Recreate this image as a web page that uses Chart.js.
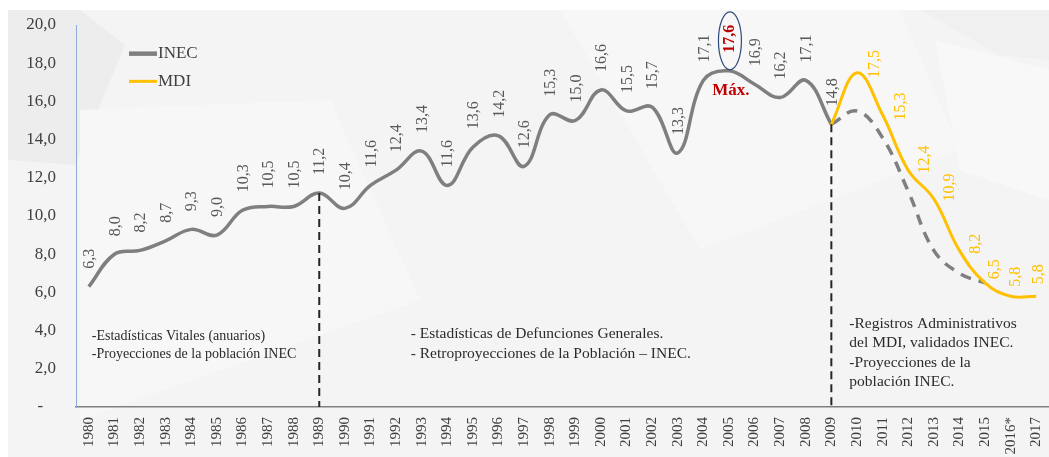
<!DOCTYPE html>
<html><head><meta charset="utf-8">
<script src="https://cdn.jsdelivr.net/npm/chart.js@4/dist/chart.umd.min.js"></script>
<style>html,body{margin:0;padding:0;background:#fff}</style>
</head><body>
<canvas id="c" width="1049" height="457"></canvas>
<script>
const years = ['1980','1981','1982','1983','1984','1985','1986','1987','1988','1989',
  '1990','1991','1992','1993','1994','1995','1996','1997','1998','1999',
  '2000','2001','2002','2003','2004','2005','2006','2007','2008','2009',
  '2010','2011','2012','2013','2014','2015','2016*','2017'];
const inecValues = [6.3,8.0,8.2,8.7,9.3,9.0,10.3,10.5,10.5,11.2,
  10.4,11.6,12.4,13.4,11.6,13.6,14.2,12.6,15.3,15.0,
  16.6,15.5,15.7,13.3,17.1,17.6,16.9,16.2,17.1,14.8,
  null,null,null,null,null,null,null,null];
const inecProjection = [null,null,null,null,null,null,null,null,null,null,
  null,null,null,null,null,null,null,null,null,null,
  null,null,null,null,null,null,null,null,null,14.8,
  15.5,14.1,11.3,8.2,7.0,6.5,null,null];
const mdiValues = [null,null,null,null,null,null,null,null,null,null,
  null,null,null,null,null,null,null,null,null,null,
  null,null,null,null,null,null,null,null,null,14.8,
  17.5,15.3,12.4,10.9,8.2,6.5,5.8,5.8];
const yTickValues = [0,2,4,6,8,10,12,14,16,18,20];
const maxYear = '2005';
const maxLabel = 'Máx.';
const dividerYears = ['1989','2009'];
const seriesNames = ['INEC','MDI'];
const notesLeft = ['-Estadísticas Vitales (anuarios)','-Proyecciones de la población INEC'];
const notesMid = ['- Estadísticas de Defunciones Generales.','- Retroproyecciones de la Población – INEC.'];
const notesRight = ['-Registros Administrativos','del MDI, validados INEC.','-Proyecciones de la','población INEC.'];

const FONT = '"Liberation Serif", "DejaVu Serif", serif';
const GRAY = '#7f7f7f', GOLD = '#ffc000', RED = '#c00000', TXT = '#404040';
const fmt = v => v.toFixed(1).replace('.', ',');

function vText(ctx, text, x, y, color, font) {
  ctx.save();
  ctx.translate(x, y);
  ctx.rotate(-Math.PI / 2);
  ctx.fillStyle = color; ctx.font = font;
  ctx.textAlign = 'left'; ctx.textBaseline = 'middle';
  ctx.fillText(text, 0, 0);
  ctx.restore();
}

const bgPlugin = {
  id: 'bg',
  beforeDraw(chart) {
    const ctx = chart.ctx, W = chart.width, H = chart.height;
    ctx.save();
    ctx.fillStyle = '#ffffff'; ctx.fillRect(0, 0, W, H);
    ctx.fillStyle = '#f4f4f4'; ctx.fillRect(8, 10, W - 8, H - 10);
    ctx.fillStyle = '#ededed';
    ctx.beginPath(); ctx.moveTo(8,10); ctx.lineTo(80,10); ctx.lineTo(125,45); ctx.lineTo(75,165); ctx.lineTo(8,160); ctx.closePath(); ctx.fill();
    ctx.fillStyle = '#f7f7f7';
    ctx.beginPath(); ctx.moveTo(80,110); ctx.lineTo(330,100); ctx.lineTo(420,300); ctx.lineTo(80,420); ctx.closePath(); ctx.fill();
    ctx.beginPath(); ctx.moveTo(560,10); ctx.lineTo(900,10); ctx.lineTo(960,150); ctx.lineTo(700,250); ctx.closePath(); ctx.fill();
    ctx.fillStyle = '#f0f0f0';
    ctx.beginPath(); ctx.moveTo(920,10); ctx.lineTo(1049,10); ctx.lineTo(1049,60); ctx.lineTo(1000,55); ctx.closePath(); ctx.fill();
    ctx.fillStyle = '#f8f8f8';
    ctx.beginPath(); ctx.moveTo(935,40); ctx.lineTo(1049,70); ctx.lineTo(1049,200); ctx.lineTo(960,170); ctx.closePath(); ctx.fill();
    ctx.restore();
  }
};

const annoPlugin = {
  id: 'anno',
  afterDatasetsDraw(chart) {
    const ctx = chart.ctx, xs = chart.scales.x, ys = chart.scales.y, area = chart.chartArea;
    ctx.save();
    // divider lines
    ctx.strokeStyle = '#262626'; ctx.lineWidth = 2; ctx.setLineDash([8, 5]);
    dividerYears.forEach(yr => {
      const i = years.indexOf(yr);
      const x = xs.getPixelForValue(i);
      ctx.beginPath(); ctx.moveTo(x, ys.getPixelForValue(inecValues[i])); ctx.lineTo(x, area.bottom); ctx.stroke();
    });
    ctx.setLineDash([]);
    // INEC labels
    inecValues.forEach((v, i) => {
      if (v == null) return;
      const x = xs.getPixelForValue(i), y = ys.getPixelForValue(v);
      if (years[i] === maxYear) {
        vText(ctx, fmt(v), x + 1, y - 18, RED, 'bold 16px ' + FONT);
        ctx.strokeStyle = '#2f4a7a'; ctx.lineWidth = 1.2;
        ctx.beginPath(); ctx.ellipse(x + 1, y - 30, 11.5, 29, 0, 0, Math.PI * 2); ctx.stroke();
        ctx.fillStyle = RED; ctx.font = 'bold 17px ' + FONT; ctx.textAlign = 'center'; ctx.textBaseline = 'middle';
        ctx.fillText(maxLabel, x + 2, y + 20);
      } else {
        vText(ctx, fmt(v), x + 1, y - 18, '#595959', '16px ' + FONT);
      }
    });
    // MDI labels: placed right of the curve, further out where the curve is steep
    mdiValues.forEach((v, i) => {
      if (v == null || inecValues[i] != null) return;
      const prev = mdiValues[i - 1], next = mdiValues[i + 1];
      const slopes = [];
      if (prev != null) slopes.push(Math.abs(v - prev));
      if (next != null) slopes.push(Math.abs(next - v));
      const s = slopes.reduce((a, b) => a + b, 0) / slopes.length;
      const x = xs.getPixelForValue(i), y = ys.getPixelForValue(v);
      vText(ctx, fmt(v), x + 3 + 6 * s, y - 12 + 7 * s, GOLD, '16px ' + FONT);
    });
    // notes
    ctx.fillStyle = '#2b2b2b'; ctx.textAlign = 'left'; ctx.textBaseline = 'middle';
    ctx.font = '14px ' + FONT;
    const x0 = xs.getPixelForValue(0) + 3;
    notesLeft.forEach((t, k) => ctx.fillText(t, x0, ys.getPixelForValue(3.7) + k * 18));
    ctx.font = '15.5px ' + FONT;
    const x1 = xs.getPixelForValue(years.indexOf('1993')) - 11;
    notesMid.forEach((t, k) => ctx.fillText(t, x1, ys.getPixelForValue(3.85) + k * 20));
    ctx.font = '15.5px ' + FONT;
    const x2 = xs.getPixelForValue(years.indexOf('2009')) + 18;
    notesRight.forEach((t, k) => ctx.fillText(t, x2, ys.getPixelForValue(4.35) + k * 19.5));
    // legend
    const lx = area.left + 53;
    const ly = [ys.getPixelForValue(18.5), ys.getPixelForValue(17.05)];
    const cols = [GRAY, GOLD], widths = [4.5, 3];
    seriesNames.forEach((n, k) => {
      ctx.strokeStyle = cols[k]; ctx.lineWidth = widths[k];
      ctx.beginPath(); ctx.moveTo(lx, ly[k]); ctx.lineTo(lx + 28, ly[k]); ctx.stroke();
      ctx.fillStyle = TXT; ctx.font = '17px ' + FONT;
      ctx.fillText(n, lx + 29, ly[k]);
    });
    ctx.restore();
  }
};

new Chart(document.getElementById('c'), {
  type: 'line',
  data: {
    labels: years,
    datasets: [
      { label: 'MDI', data: mdiValues, borderColor: GOLD, borderWidth: 3, tension: 0.4, pointRadius: 0 },
      { label: 'INEC (proyección)', data: inecProjection, borderColor: GRAY, borderWidth: 3.5, borderDash: [11, 8], tension: 0.4, pointRadius: 0 },
      { label: 'INEC', data: inecValues, borderColor: GRAY, borderWidth: 3.5, tension: 0.4, pointRadius: 0 }
    ]
  },
  options: {
    responsive: false,
    animation: false,
    layout: { padding: { top: 25, left: 0, right: 0, bottom: 0 } },
    plugins: { legend: { display: false }, tooltip: { enabled: false } },
    scales: {
      x: {
        offset: true,
        grid: { display: false, drawTicks: false },
        border: { color: '#808080', width: 1.5 },
        ticks: { minRotation: 90, maxRotation: 90, autoSkip: false, padding: 10, color: TXT, font: { family: FONT, size: 15 } },
        afterFit(s) { s.height = 50; s.paddingLeft = 0; s.paddingRight = 0; }
      },
      y: {
        min: 0, max: 20,
        grid: { display: false, drawTicks: false },
        border: { color: '#8eaadb', width: 1 },
        afterBuildTicks(s) { s.ticks = yTickValues.map(v => ({ value: v })); },
        ticks: { padding: 20, color: TXT, font: { family: FONT, size: 17 },
          callback: v => v === 0 ? '-   ' : fmt(v) },
        afterFit(s) { s.width = 76; s.paddingTop = 0; s.paddingBottom = 0; }
      }
    }
  },
  plugins: [bgPlugin, annoPlugin]
});
</script>
</body></html>
